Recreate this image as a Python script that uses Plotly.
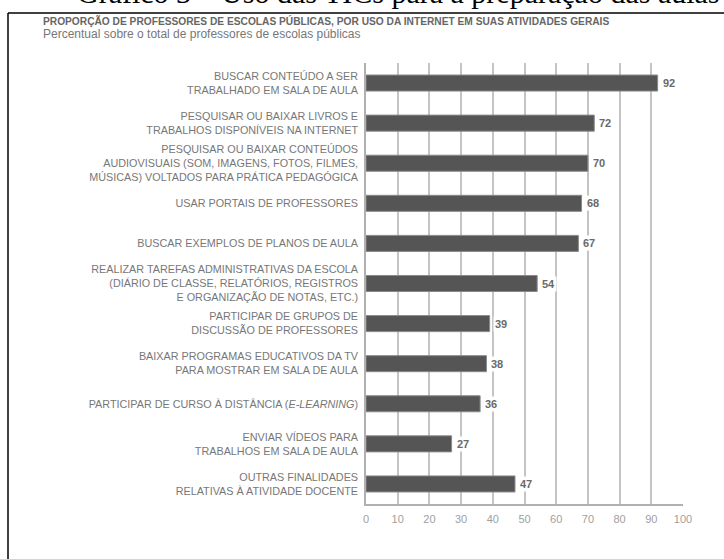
import plotly.graph_objects as go

categories = [
    "BUSCAR CONTEÚDO A SER<br>TRABALHADO EM SALA DE AULA",
    "PESQUISAR OU BAIXAR LIVROS E<br>TRABALHOS DISPONÍVEIS NA INTERNET",
    "PESQUISAR OU BAIXAR CONTEÚDOS<br>AUDIOVISUAIS (SOM, IMAGENS, FOTOS, FILMES,<br>MÚSICAS) VOLTADOS PARA PRÁTICA PEDAGÓGICA",
    "USAR PORTAIS DE PROFESSORES",
    "BUSCAR EXEMPLOS DE PLANOS DE AULA",
    "REALIZAR TAREFAS ADMINISTRATIVAS DA ESCOLA<br>(DIÁRIO DE CLASSE, RELATÓRIOS, REGISTROS<br>E ORGANIZAÇÃO DE NOTAS, ETC.)",
    "PARTICIPAR DE GRUPOS DE<br>DISCUSSÃO DE PROFESSORES",
    "BAIXAR PROGRAMAS EDUCATIVOS DA TV<br>PARA MOSTRAR EM SALA DE AULA",
    "PARTICIPAR DE CURSO À DISTÂNCIA (<i>E-LEARNING</i>)",
    "ENVIAR VÍDEOS PARA<br>TRABALHOS EM SALA DE AULA",
    "OUTRAS FINALIDADES<br>RELATIVAS À ATIVIDADE DOCENTE",
]
values = [92, 72, 70, 68, 67, 54, 39, 38, 36, 27, 47]
x_ticks = [0, 10, 20, 30, 40, 50, 60, 70, 80, 90, 100]

header = "Gráfico 3 – Uso das TICs para a preparação das aulas"
title = "PROPORÇÃO DE PROFESSORES DE ESCOLAS PÚBLICAS, POR USO DA INTERNET EM SUAS ATIVIDADES GERAIS"
subtitle = "Percentual sobre o total de professores de escolas públicas"

W, H = 724, 559
L, R, T, B = 366, 41, 63, 55
PW, PH = W - L - R, H - T - B

def px(xp):
    return (xp - L) / PW

def py(yp):
    return (H - B - yp) / PH

ypos = list(range(len(categories)))

fig = go.Figure()
fig.add_trace(go.Bar(
    x=values, y=ypos, orientation="h", width=0.4,
    marker=dict(color="#555555", line=dict(color="#8a8a8a", width=1)),
    hoverinfo="x",
))

annotations = []
for v, yv in zip(values, ypos):
    annotations.append(dict(
        x=v, y=yv, xref="x", yref="y", text=f"<b>{v}</b>", showarrow=False,
        xanchor="left", yanchor="middle", xshift=3, bgcolor="white",
        font=dict(family="Liberation Sans, Arial, sans-serif", size=11, color="#6a6a6a"),
    ))

annotations += [
    dict(x=px(75), y=py(11), xref="paper", yref="paper", text=header, showarrow=False,
         xanchor="left", yanchor="bottom",
         font=dict(family="Liberation Serif, Times New Roman, serif", size=30, color="black")),
    dict(x=px(41), y=py(21), xref="paper", yref="paper", text=f"<b>{title}</b>", showarrow=False,
         xanchor="left", yanchor="middle",
         font=dict(family="Liberation Sans, Arial, sans-serif", size=10.2, color="#666666")),
    dict(x=px(41), y=py(34), xref="paper", yref="paper", text=subtitle, showarrow=False,
         xanchor="left", yanchor="middle",
         font=dict(family="Liberation Sans, Arial, sans-serif", size=12, color="#777777")),
]

shapes = [
    dict(type="line", xref="paper", yref="paper", x0=px(8), x1=px(730), y0=py(13), y1=py(13),
         line=dict(color="black", width=1.5)),
    dict(type="line", xref="paper", yref="paper", x0=px(8), x1=px(8), y0=py(13), y1=py(565),
         line=dict(color="black", width=1.5)),
]

fig.update_layout(
    width=W, height=H,
    margin=dict(l=L, r=R, t=T, b=B),
    paper_bgcolor="white", plot_bgcolor="white",
    showlegend=False,
    annotations=annotations,
    shapes=shapes,
    xaxis=dict(
        range=[0, 100], tickvals=x_ticks, ticktext=[str(t) for t in x_ticks],
        showgrid=True, gridcolor="#c4c4c4", gridwidth=1.5,
        zeroline=False, showline=True, linecolor="#b0b0b0", linewidth=2,
        ticks="", ticklabelstandoff=4,
        tickfont=dict(family="Liberation Sans, Arial, sans-serif", size=11, color="#a0a0a0"),
        fixedrange=True,
    ),
    yaxis=dict(
        range=[10.5, -0.5], tickvals=ypos, ticktext=categories,
        showgrid=False, zeroline=False, showline=True, linecolor="#b0b0b0", linewidth=1.5,
        ticks="", ticklabelstandoff=4,
        tickfont=dict(family="Liberation Sans, Arial, sans-serif", size=10.8, color="#777777"),
        fixedrange=True,
    ),
    font=dict(family="Liberation Sans, Arial, sans-serif"),
)

fig.write_html("out.html")
